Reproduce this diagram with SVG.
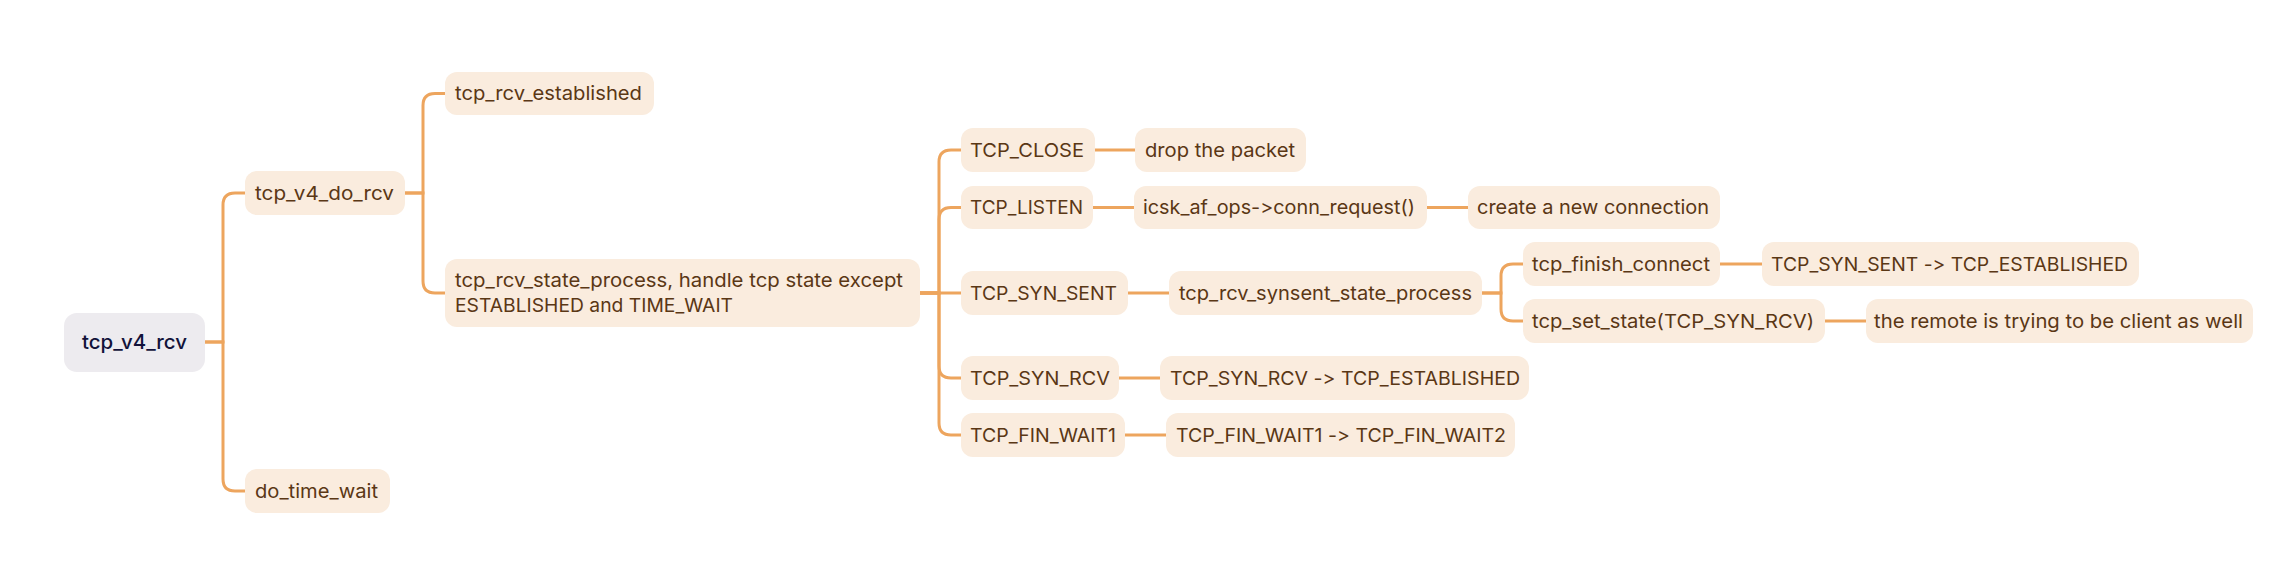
<svg xmlns="http://www.w3.org/2000/svg" width="2292" height="582" viewBox="0 0 2292 582">
<style>
text{font-variant-ligatures:none;font-feature-settings:"calt" 0,"liga" 0,"dlig" 0}
.n rect{fill:#FAECDE}
.n text{font-family:Inter,"Open Sans","Liberation Sans",sans-serif;font-size:19px;fill:#5A3715;dominant-baseline:central}
.root rect{fill:#EDEBEF}
.root text{font-family:Inter,"Open Sans","Liberation Sans",sans-serif;font-size:20px;font-weight:500;fill:#12123A;dominant-baseline:central}
.c path{fill:none;stroke:#EDA55E;stroke-width:3;stroke-linecap:round}
</style>
<rect width="2292" height="582" fill="#FFFFFF"/>
<g class="c" id="connectors">
<path d="M205 342H223V205Q223 193 235 193H245"/>
<path d="M205 342H223V479Q223 491 235 491H245"/>
<path d="M405 193H423V105.5Q423 93.5 435 93.5H445"/>
<path d="M405 193H423V281Q423 293 435 293H445"/>
<path d="M920 293H939V162Q939 150 951 150H961"/>
<path d="M920 293H939V219.5Q939 207.5 951 207.5H961"/>
<path d="M920 293H961"/>
<path d="M920 293H939V366Q939 378 951 378H961"/>
<path d="M920 293H939V423Q939 435 951 435H961"/>
<path d="M1095 150H1135"/>
<path d="M1093 207.5H1134"/>
<path d="M1427 207.5H1468"/>
<path d="M1128 293H1169"/>
<path d="M1482 293H1501V276Q1501 264 1513 264H1523"/>
<path d="M1482 293H1501V309Q1501 321 1513 321H1523"/>
<path d="M1720 264H1762"/>
<path d="M1825 321H1866"/>
<path d="M1119 378H1160"/>
<path d="M1125 435H1166"/>
</g>
<g id="n-root" class="root"><rect x="64" y="313" width="141" height="59" rx="13"/><text x="82" y="342" textLength="105" lengthAdjust="spacingAndGlyphs">tcp_v4_rcv</text></g>
<g id="n-do-rcv" class="n"><rect x="245" y="171" width="160" height="44" rx="12"/><text x="255" y="193" textLength="139" lengthAdjust="spacingAndGlyphs">tcp_v4_do_rcv</text></g>
<g id="n-time-wait" class="n"><rect x="245" y="469" width="145" height="44" rx="12"/><text x="255" y="491" textLength="123" lengthAdjust="spacingAndGlyphs">do_time_wait</text></g>
<g id="n-established" class="n"><rect x="445" y="72" width="209" height="43" rx="12"/><text x="455" y="93.5" textLength="187" lengthAdjust="spacingAndGlyphs">tcp_rcv_established</text></g>
<g id="n-state-process" class="n"><rect x="445" y="259" width="475" height="68" rx="12"/><text x="455" y="280.5" textLength="448" lengthAdjust="spacingAndGlyphs">tcp_rcv_state_process, handle tcp state except</text><text x="455" y="305.5" textLength="278" lengthAdjust="spacingAndGlyphs">ESTABLISHED and TIME_WAIT</text></g>
<g id="n-close" class="n"><rect x="961" y="128" width="134" height="44" rx="12"/><text x="970" y="150" textLength="114" lengthAdjust="spacingAndGlyphs">TCP_CLOSE</text></g>
<g id="n-drop" class="n"><rect x="1135" y="128" width="171" height="44" rx="12"/><text x="1145" y="150" textLength="150" lengthAdjust="spacingAndGlyphs">drop the packet</text></g>
<g id="n-listen" class="n"><rect x="961" y="186" width="132" height="43" rx="12"/><text x="970" y="207.5" textLength="113" lengthAdjust="spacingAndGlyphs">TCP_LISTEN</text></g>
<g id="n-conn-request" class="n"><rect x="1134" y="186" width="293" height="43" rx="12"/><text x="1143" y="207.5" textLength="272" lengthAdjust="spacingAndGlyphs">icsk_af_ops-&gt;conn_request()</text></g>
<g id="n-create" class="n"><rect x="1468" y="186" width="252" height="43" rx="12"/><text x="1477" y="207.5" textLength="232" lengthAdjust="spacingAndGlyphs">create a new connection</text></g>
<g id="n-syn-sent" class="n"><rect x="961" y="271" width="167" height="44" rx="12"/><text x="970" y="293" textLength="147" lengthAdjust="spacingAndGlyphs">TCP_SYN_SENT</text></g>
<g id="n-synsent-process" class="n"><rect x="1169" y="271" width="313" height="44" rx="12"/><text x="1179" y="293" textLength="293" lengthAdjust="spacingAndGlyphs">tcp_rcv_synsent_state_process</text></g>
<g id="n-finish-connect" class="n"><rect x="1523" y="242" width="197" height="44" rx="12"/><text x="1532" y="264" textLength="178" lengthAdjust="spacingAndGlyphs">tcp_finish_connect</text></g>
<g id="n-sent-est" class="n"><rect x="1762" y="242" width="377" height="44" rx="12"/><text x="1771" y="264" textLength="357" lengthAdjust="spacingAndGlyphs">TCP_SYN_SENT -&gt; TCP_ESTABLISHED</text></g>
<g id="n-set-state" class="n"><rect x="1523" y="299" width="302" height="44" rx="12"/><text x="1532" y="321" textLength="282" lengthAdjust="spacingAndGlyphs">tcp_set_state(TCP_SYN_RCV)</text></g>
<g id="n-remote" class="n"><rect x="1866" y="299" width="387" height="44" rx="12"/><text x="1874" y="321" textLength="369" lengthAdjust="spacingAndGlyphs">the remote is trying to be client as well</text></g>
<g id="n-syn-rcv" class="n"><rect x="961" y="356" width="158" height="44" rx="12"/><text x="970" y="378" textLength="140" lengthAdjust="spacingAndGlyphs">TCP_SYN_RCV</text></g>
<g id="n-rcv-est" class="n"><rect x="1160" y="356" width="369" height="44" rx="12"/><text x="1170" y="378" textLength="350" lengthAdjust="spacingAndGlyphs">TCP_SYN_RCV -&gt; TCP_ESTABLISHED</text></g>
<g id="n-fin-wait1" class="n"><rect x="961" y="413" width="164" height="44" rx="12"/><text x="970" y="435" textLength="146" lengthAdjust="spacingAndGlyphs">TCP_FIN_WAIT1</text></g>
<g id="n-fin-fin" class="n"><rect x="1166" y="413" width="349" height="44" rx="12"/><text x="1176" y="435" textLength="330" lengthAdjust="spacingAndGlyphs">TCP_FIN_WAIT1 -&gt; TCP_FIN_WAIT2</text></g>
</svg>
